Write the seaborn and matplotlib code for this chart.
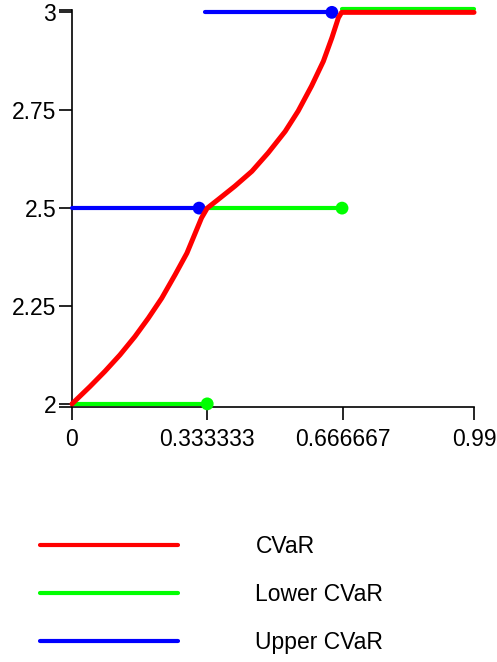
import matplotlib
matplotlib.use("Agg")
import matplotlib.pyplot as plt
from matplotlib.lines import Line2D
import seaborn as sns
import pandas as pd

# ---- data ----
red_x = [0.0, 0.044, 0.081, 0.118, 0.155, 0.188, 0.221, 0.254, 0.283, 0.307, 0.319, 0.333,
         0.360, 0.401, 0.443, 0.483, 0.525, 0.557, 0.590, 0.619, 0.640, 0.656, 0.664, 0.99]
red_y = [2.0, 2.044, 2.083, 2.125, 2.172, 2.219, 2.270, 2.330, 2.385, 2.445, 2.475, 2.5,
         2.522, 2.556, 2.594, 2.641, 2.696, 2.748, 2.812, 2.875, 2.935, 2.986, 3.0, 3.0]

green_x = [0.0, 0.333, 0.333, 0.665, 0.665, 0.99]
green_y = [2.0, 2.0, 2.5, 2.5, 3.008, 3.008]
green_seg = [1, 1, 2, 2, 3, 3]
green_dot_x = [0.333, 0.665]
green_dot_y = [2.0, 2.5]

blue_x = [0.0, 0.313, 0.328, 0.64]
blue_y = [2.5, 2.5, 3.0, 3.0]
blue_seg = [1, 1, 2, 2]
blue_dot_x = [0.313, 0.64]
blue_dot_y = [2.5, 3.0]

x_ticks = [0.0, 0.333333, 0.666667, 0.99]
x_tick_labels = ["0", "0.333333", "0.666667", "0.99"]
y_ticks = [2.0, 2.25, 2.5, 2.75, 3.0]
y_tick_labels = ["2", "2.25", "2.5", "2.75", "3"]
series_names = ["CVaR", "Lower CVaR", "Upper CVaR"]
series_colors = ["#ff0000", "#00ff00", "#0000ff"]

# ---- figure ----
sns.set_style("white")
plt.rcParams["font.family"] = ["Liberation Sans", "DejaVu Sans"]
plt.rcParams["text.color"] = "black"
FS = 16.5

fig = plt.figure(figsize=(4.97, 6.62), dpi=100)
ax = fig.add_axes([72 / 497, 1 - 407 / 662, 402 / 497, 397 / 662])

green_df = pd.DataFrame({"x": green_x, "y": green_y, "seg": green_seg})
blue_df = pd.DataFrame({"x": blue_x, "y": blue_y, "seg": blue_seg})
red_df = pd.DataFrame({"x": red_x, "y": red_y})

sns.lineplot(data=green_df, x="x", y="y", units="seg", estimator=None, sort=False,
             color=series_colors[1], lw=3.0, ax=ax, clip_on=False, zorder=3)
sns.scatterplot(x=green_dot_x, y=green_dot_y, color=series_colors[1], s=85,
                edgecolor="none", ax=ax, clip_on=False, zorder=3)
sns.lineplot(data=blue_df, x="x", y="y", units="seg", estimator=None, sort=False,
             color=series_colors[2], lw=3.0, ax=ax, clip_on=False, zorder=4)
sns.scatterplot(x=blue_dot_x, y=blue_dot_y, color=series_colors[2], s=85,
                edgecolor="none", ax=ax, clip_on=False, zorder=4)
sns.lineplot(data=red_df, x="x", y="y", estimator=None, sort=False,
             color=series_colors[0], lw=3.6, ax=ax, clip_on=False, zorder=5)
for ln in ax.lines:
    ln.set_solid_joinstyle("round")

ylo, yhi = 1.992, 3.006
ax.set_xlim(0, 0.99)
ax.set_ylim(ylo, yhi)
ax.set_xticks(x_ticks)
ax.set_xticklabels(x_tick_labels, fontsize=FS)
ax.set_yticks([ylo] + y_ticks + [yhi])
ax.set_yticklabels([""] + y_tick_labels + [""], fontsize=FS)
ax.set_xlabel("")
ax.set_ylabel("")
for s in ["top", "right"]:
    ax.spines[s].set_visible(False)
for s in ["left", "bottom"]:
    ax.spines[s].set_color("black")
    ax.spines[s].set_linewidth(1.2)
ax.tick_params(axis="both", direction="out", length=9.4, width=1.2, color="black",
               labelcolor="black", left=True, bottom=True)
ax.tick_params(axis="x", pad=6)
ax.tick_params(axis="y", pad=2)
if ax.get_legend() is not None:
    ax.get_legend().remove()

handles = [Line2D([], [], color=c, lw=3.0) for c in series_colors]
leg = fig.legend(handles, series_names, loc="upper left", bbox_to_anchor=(40 / 497, 1 - 535 / 662),
                 frameon=False, fontsize=FS, handlelength=6.0, handletextpad=3.4,
                 labelspacing=1.1, borderpad=0, borderaxespad=0)
for t in leg.get_texts():
    t.set_color("black")

fig.savefig("out.png", dpi=100)
